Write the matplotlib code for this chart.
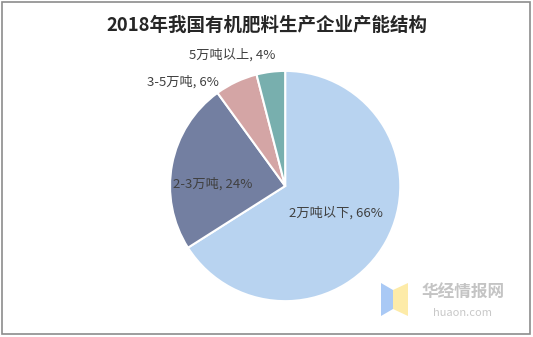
import matplotlib
matplotlib.use("Agg")
import matplotlib.pyplot as plt
from matplotlib.patches import Rectangle, Polygon

plt.rcParams['font.family'] = ['Noto Sans CJK SC', 'DejaVu Sans']

title = "2018年我国有机肥料生产企业产能结构"
categories = ["2万吨以下", "2-3万吨", "3-5万吨", "5万吨以上"]
shares = [66, 24, 6, 4]
colors = ["#B8D3F0", "#737FA1", "#D4A5A5", "#78AFAE"]

fig = plt.figure(figsize=(5.33, 3.37), dpi=100)

# outer frame
fig.patches.append(Rectangle((0.003, 0.008), 0.992, 0.987, transform=fig.transFigure,
                             fill=False, edgecolor="#8c8c8c", linewidth=1.2))

fig.text(0.5, 0.925, title, ha="center", va="center", fontsize=13.3,
         fontweight="bold", color="#262626")

ax = fig.add_axes([0.319, 0.106, 0.432, 0.684])
wedges, _ = ax.pie(shares, colors=colors, startangle=90, counterclock=False,
                   wedgeprops=dict(edgecolor="white", linewidth=1.5))
ax.set_aspect("equal")
ax.set_xlim(-1.0, 1.0)
ax.set_ylim(-1.0, 1.0)

labels = ["%s, %d%%" % (c, v) for c, v in zip(categories, shares)]
# label anchor positions (axes fraction)
label_pos = [(0.72, 0.385), (0.185, 0.51), (0.055, 0.952), (0.27, 1.07)]
for lab, (x, y) in zip(labels, label_pos):
    ax.text(x, y, lab, transform=ax.transAxes, ha="center", va="center",
            fontsize=9.5, color="#404040")

# watermark
fig.patches.append(Polygon([(381/533, 1-283/337), (393/533, 1-290/337),
                            (393/533, 1-309/337), (381/533, 1-316/337)],
                           closed=True, transform=fig.transFigure,
                           facecolor="#A9C9F5", edgecolor="none"))
fig.patches.append(Polygon([(393/533, 1-290/337), (408/533, 1-283/337),
                            (408/533, 1-316/337), (393/533, 1-309/337)],
                           closed=True, transform=fig.transFigure,
                           facecolor="#FDEBA8", edgecolor="none"))
fig.text(463/533, 1-293/337, "华经情报网", ha="center", va="center",
         fontsize=12, color="#C4C4C4", fontweight="bold")
fig.text(463/533, 1-313/337, "huaon.com", ha="center", va="center",
         fontsize=8, color="#C8C8C8")

fig.savefig("out.png", dpi=100, facecolor="white")
